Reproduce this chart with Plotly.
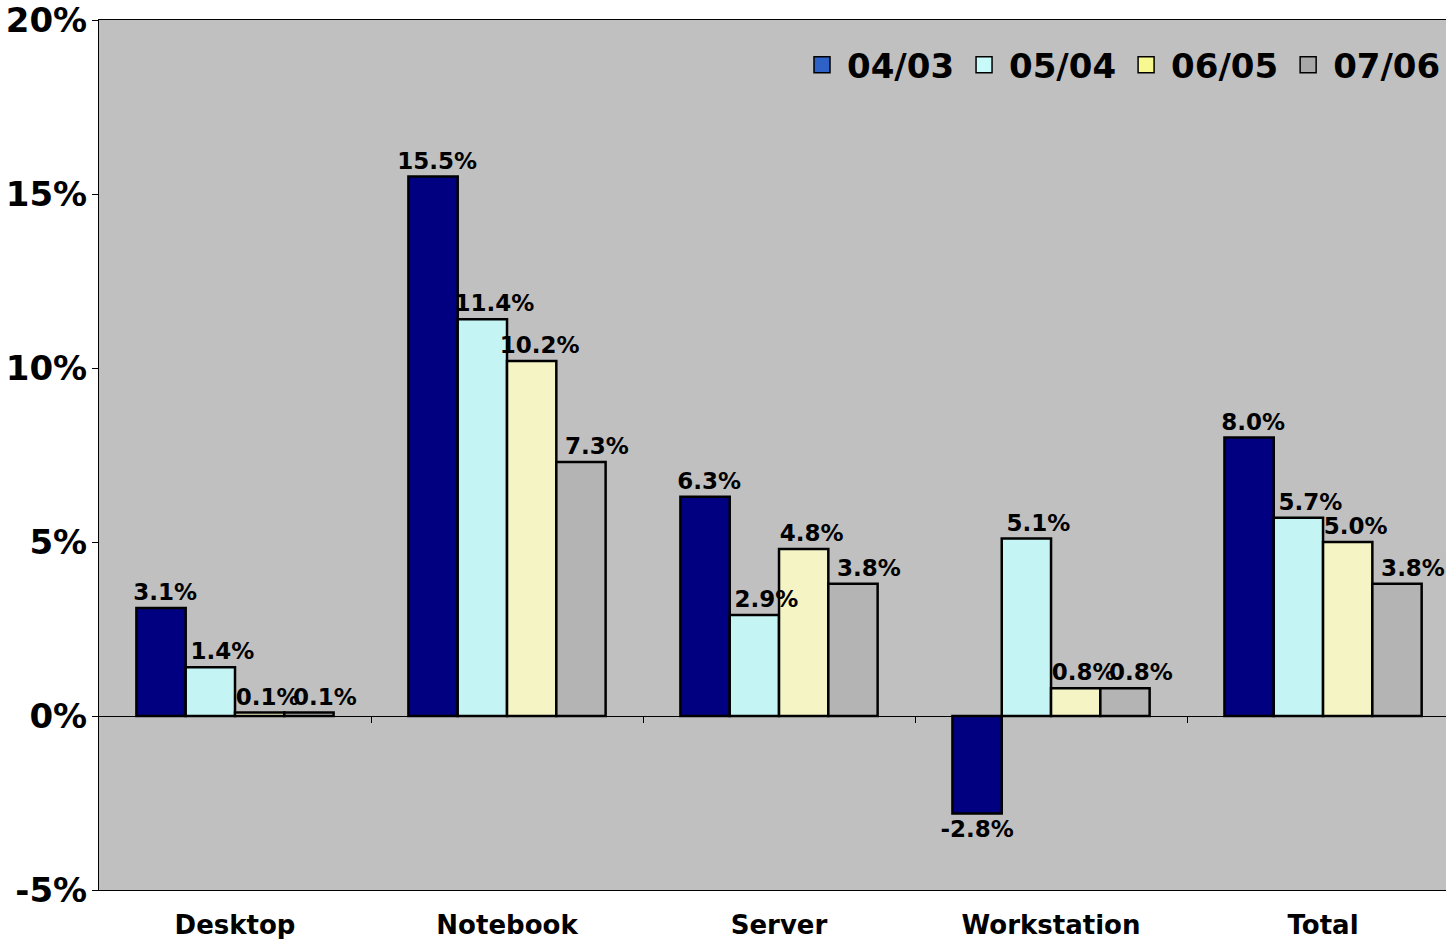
import plotly.graph_objects as go

categories = ["Desktop", "Notebook", "Server", "Workstation", "Total"]
series_names = ["04/03", "05/04", "06/05", "07/06"]
v_0403 = [3.1, 15.5, 6.3, -2.8, 8.0]
v_0504 = [1.4, 11.4, 2.9, 5.1, 5.7]
v_0605 = [0.1, 10.2, 4.8, 0.8, 5.0]
v_0706 = [0.1, 7.3, 3.8, 0.8, 3.8]
y_ticks = [-5, 0, 5, 10, 15, 20]
y_tick_labels = ["-5%", "0%", "5%", "10%", "15%", "20%"]

series_values = [v_0403, v_0504, v_0605, v_0706]
bar_colors = ["#000080", "#C4F4F4", "#F4F4C4", "#B4B4B4"]
legend_colors = ["#2F62C6", "#C8FAFA", "#F8F890", "#A8A8A8"]
label_pad = [1, 3, 2, 4]  # leading non-breaking spaces: labels sit right of bar centre

FONT = "DejaVu Sans"
NB = "\u00a0"
XR = [-0.5, 4.452]
YR = [-5, 20]
fig = go.Figure()
x_idx = list(range(len(categories)))

# bars (main layer)
for name, vals, col in zip(series_names, series_values, bar_colors):
    fig.add_trace(go.Bar(
        x=x_idx, y=vals, name=name, showlegend=False,
        marker=dict(color=col, line=dict(color="black", width=2.5)),
        hoverinfo="skip",
    ))

# value labels on an overlaid layer so they sit above every bar
for name, vals, pad in zip(series_names, series_values, label_pad):
    labels = [(NB * pad if v >= 0 else "") + f"{v:.1f}%" for v in vals]
    fig.add_trace(go.Bar(
        x=x_idx, y=vals, name=name, showlegend=False, xaxis="x2", yaxis="y2",
        marker=dict(color="rgba(0,0,0,0)", line=dict(color="rgba(0,0,0,0)", width=2.5)),
        text=labels, texttemplate="%{text}", textposition="outside",
        textfont=dict(family=FONT, size=23, color="black", weight="bold"),
        constraintext="none", cliponaxis=False,
    ))

for name, col in zip(series_names, legend_colors):
    fig.add_trace(go.Scatter(
        x=[None], y=[None], mode="markers", name=name,
        marker=dict(symbol="square", size=20, color=col,
                    line=dict(color="black", width=1.5)),
    ))

fig.update_layout(
    width=1446, height=939,
    margin=dict(l=99, r=0, t=20, b=49),
    paper_bgcolor="white", plot_bgcolor="#C0C0C0",
    barmode="group", bargap=0.275, bargroupgap=0,
    font=dict(family=FONT, color="black"),
    legend=dict(orientation="h", x=1.0, xanchor="right", y=0.948, yanchor="middle",
                bgcolor="rgba(0,0,0,0)", font=dict(size=34, weight="bold"),
                itemwidth=40, tracegroupgap=0),
    xaxis=dict(range=XR, tickvals=x_idx, ticktext=categories,
               showline=True, linecolor="black", linewidth=1, mirror=True,
               ticks="", showgrid=False, ticklabelstandoff=12,
               tickfont=dict(size=26, weight="bold")),
    xaxis2=dict(range=XR, overlaying="x", anchor="free", position=0.2,
                side="bottom", tickvals=[0.5, 1.5, 2.5, 3.5], ticks="outside",
                ticklen=6, tickcolor="black", showticklabels=False,
                showline=False, showgrid=False, zeroline=False),
    yaxis=dict(range=YR, tickvals=y_ticks, ticktext=y_tick_labels,
               showline=True, linecolor="black", linewidth=1, mirror=True,
               ticks="outside", ticklen=6, tickcolor="black", ticklabelstandoff=-2,
               ticklabeloverflow="allow",
               showgrid=False, zeroline=True, zerolinecolor="black", zerolinewidth=1,
               tickfont=dict(size=34, weight="bold")),
    yaxis2=dict(range=YR, overlaying="y", showticklabels=False, ticks="",
                showline=False, showgrid=False, zeroline=False),
)

fig.write_html("out.html")
